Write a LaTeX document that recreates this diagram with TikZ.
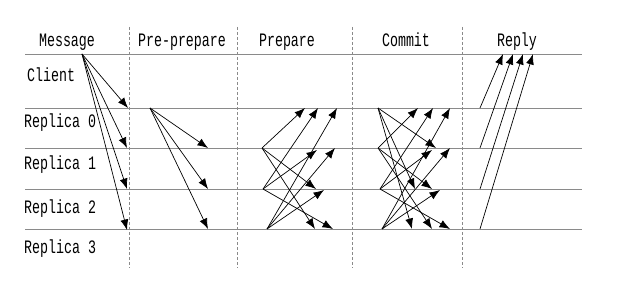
\documentclass[tikz,border=0pt]{standalone}
\usepackage{fontspec}
\newfontfamily\lblfont[FakeStretch=0.7]{Liberation Mono}
\usetikzlibrary{arrows.meta}
\definecolor{lanegray}{HTML}{8A8A8A}

\begin{document}
\begin{tikzpicture}[
  x=1pt, y=-1pt,
  lbl/.style={font={\lblfont\fontsize{19}{21}\selectfont}, inner sep=0pt},
  lane/.style={draw=lanegray, line width=0.9pt},
  phase/.style={draw=lanegray, line width=0.7pt, dash pattern=on 3pt off 2pt},
  msg/.style={-{Latex[length=10.5pt, width=8pt]}, line width=0.7pt},
]
  \useasboundingbox (0,0) rectangle (628,288);
  % --- phase headers ---
  \node[lbl, anchor=base] (hmsg) at (67,47) {Message};
  \node[lbl, anchor=base] (hpre) at (182,47) {Pre-prepare};
  \node[lbl, anchor=base] (hprep) at (287,47) {Prepare};
  \node[lbl, anchor=base] (hcom) at (406,47) {Commit};
  \node[lbl, anchor=base] (hrep) at (517,47) {Reply};
  % --- participants ---
  \node[lbl, anchor=base west] (client) at (27,82) {Client};
  \node[lbl, anchor=base west] (rep0) at (24,128) {Replica 0};
  \node[lbl, anchor=base west] (rep1) at (24,170) {Replica 1};
  \node[lbl, anchor=base west] (rep2) at (24,213) {Replica 2};
  \node[lbl, anchor=base west] (rep3) at (24,253) {Replica 3};
  % --- time lines ---
  \coordinate (lcw) at (25,54);  \coordinate (lce) at (582,54);
  \coordinate (l0w) at (25,108); \coordinate (l0e) at (582,108);
  \coordinate (l1w) at (25,148); \coordinate (l1e) at (582,148);
  \coordinate (l2w) at (25,189); \coordinate (l2e) at (582,189);
  \coordinate (l3w) at (25,229); \coordinate (l3e) at (582,229);
  \draw[lane] (lcw) -- (lce);
  \draw[lane] (l0w) -- (l0e);
  \draw[lane] (l1w) -- (l1e);
  \draw[lane] (l2w) -- (l2e);
  \draw[lane] (l3w) -- (l3e);
  % --- phase borders ---
  \coordinate (d1t) at (129,27); \coordinate (d1b) at (129,268);
  \coordinate (d2t) at (237,27); \coordinate (d2b) at (237,268);
  \coordinate (d3t) at (352,27); \coordinate (d3b) at (352,268);
  \coordinate (d4t) at (462,27); \coordinate (d4b) at (462,268);
  \draw[phase] (d1t) -- (d1b);
  \draw[phase] (d2t) -- (d2b);
  \draw[phase] (d3t) -- (d3b);
  \draw[phase] (d4t) -- (d4b);
  % --- request: client to all replicas ---
  \coordinate (cl) at (82,54);
  \coordinate (m0) at (128,108); \coordinate (m1) at (127,148);
  \coordinate (m2) at (127,189); \coordinate (m3) at (127,230);
  \draw[msg] (cl) -- (m0);
  \draw[msg] (cl) -- (m1);
  \draw[msg] (cl) -- (m2);
  \draw[msg] (cl) -- (m3);
  % --- pre-prepare: primary to backups ---
  \coordinate (pp) at (150,108);
  \coordinate (pp1) at (208,148); \coordinate (pp2) at (208,189);
  \coordinate (pp3) at (208,229);
  \draw[msg] (pp) -- (pp1);
  \draw[msg] (pp) -- (pp2);
  \draw[msg] (pp) -- (pp3);
  % --- prepare: backups to all others ---
  \coordinate (p1) at (262,148); \coordinate (p2) at (263,189);
  \coordinate (p3) at (267,229);
  \coordinate (p10) at (305,108); \coordinate (p12) at (316,189);
  \coordinate (p13) at (315,229);
  \coordinate (p20) at (318,108); \coordinate (p21) at (317,150);
  \coordinate (p23) at (333,229);
  \coordinate (p30) at (337,108); \coordinate (p31) at (335,148);
  \coordinate (p32) at (324,190);
  \draw[msg] (p1) -- (p10);
  \draw[msg] (p1) -- (p12);
  \draw[msg] (p1) -- (p13);
  \draw[msg] (p2) -- (p20);
  \draw[msg] (p2) -- (p21);
  \draw[msg] (p2) -- (p23);
  \draw[msg] (p3) -- (p30);
  \draw[msg] (p3) -- (p31);
  \draw[msg] (p3) -- (p32);
  % --- commit: every replica to all others ---
  \coordinate (c0) at (378,108); \coordinate (c1) at (378,148);
  \coordinate (c2) at (380,189); \coordinate (c3) at (382,229);
  \coordinate (c01) at (436,148); \coordinate (c02) at (415,189);
  \coordinate (c03) at (412,229);
  \coordinate (c10) at (418,108); \coordinate (c12) at (432,189);
  \coordinate (c13) at (432,229);
  \coordinate (c20) at (433,108); \coordinate (c21) at (432,150);
  \coordinate (c23) at (450,229);
  \coordinate (c30) at (450,108); \coordinate (c31) at (450,148);
  \coordinate (c32) at (440,190);
  \draw[msg] (c0) -- (c01);
  \draw[msg] (c0) -- (c02);
  \draw[msg] (c0) -- (c03);
  \draw[msg] (c1) -- (c10);
  \draw[msg] (c1) -- (c12);
  \draw[msg] (c1) -- (c13);
  \draw[msg] (c2) -- (c20);
  \draw[msg] (c2) -- (c21);
  \draw[msg] (c2) -- (c23);
  \draw[msg] (c3) -- (c30);
  \draw[msg] (c3) -- (c31);
  \draw[msg] (c3) -- (c32);
  % --- reply: replicas back to client ---
  \coordinate (y0) at (480,108); \coordinate (y1) at (480,148);
  \coordinate (y2) at (480,189); \coordinate (y3) at (480,229);
  \coordinate (y0t) at (503,54); \coordinate (y1t) at (513,54);
  \coordinate (y2t) at (523,54); \coordinate (y3t) at (533,54);
  \draw[msg] (y0) -- (y0t);
  \draw[msg] (y1) -- (y1t);
  \draw[msg] (y2) -- (y2t);
  \draw[msg] (y3) -- (y3t);
\end{tikzpicture}
\end{document}
